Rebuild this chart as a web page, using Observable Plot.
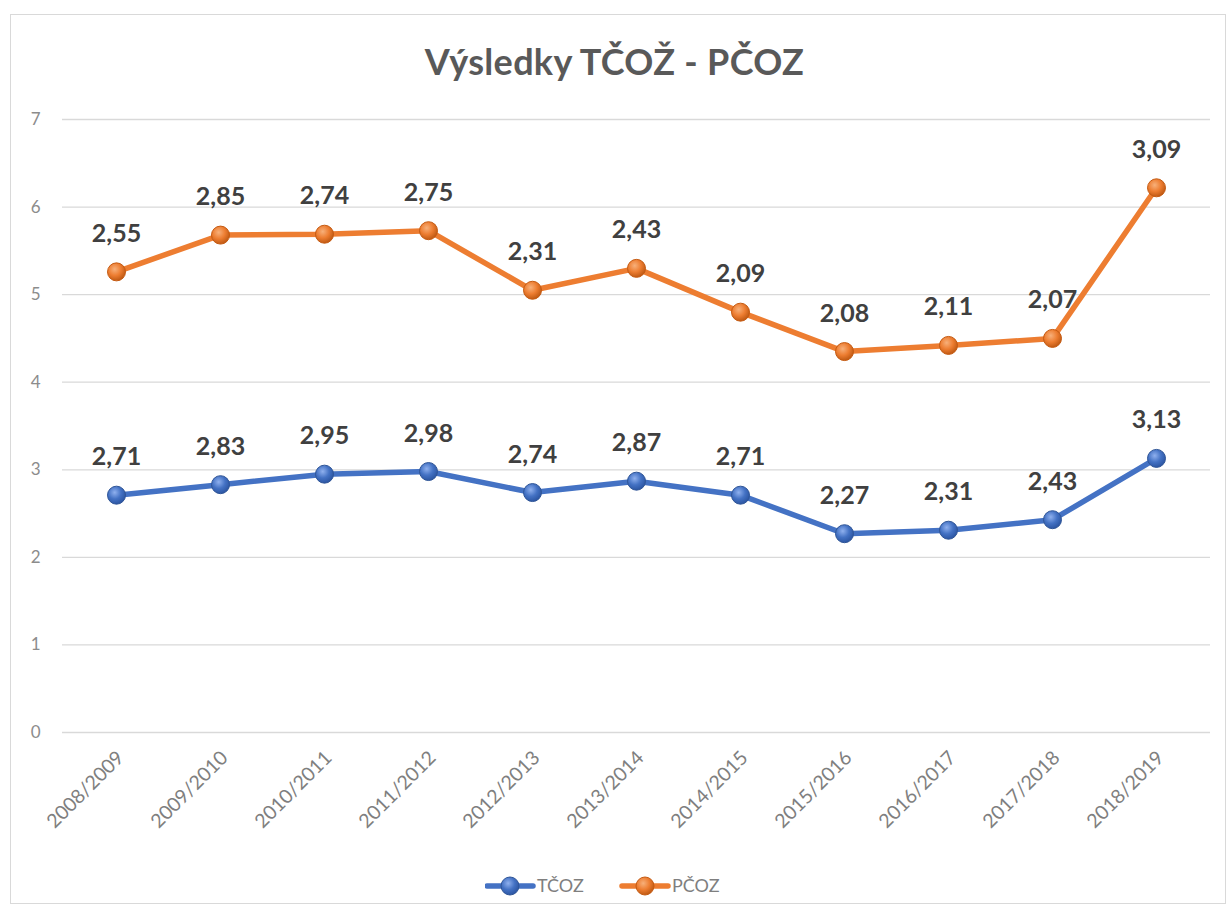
<!DOCTYPE html>
<html>
<head>
<meta charset="utf-8">
<script src="https://cdn.jsdelivr.net/npm/d3@7"></script>
<script src="https://cdn.jsdelivr.net/npm/@observablehq/plot@0.6"></script>
<style>
  html, body { margin: 0; padding: 0; background: #fff; }
  body { width: 1229px; height: 919px; position: relative; overflow: hidden; font-family: Lato, "Open Sans", sans-serif; }
  #frame { position: absolute; left: 10px; top: 14px; width: 1216px; height: 890px; border: 1.5px solid #d9d9d9; box-sizing: border-box; }
  #title { position: absolute; left: 0; top: 39px; width: 1229px; text-align: center; font-size: 36px; font-weight: 700; color: #595959; letter-spacing: 0.3px; }
  #chart { position: absolute; left: 0; top: 100px; }
  #legend { position: absolute; left: 0; top: 871px; width: 1229px; text-align: center; }
</style>
</head>
<body>
<div id="frame"></div>
<div id="title">Výsledky TČOŽ - PČOZ</div>
<div id="chart"></div>
<div id="legend"></div>
<script>
const seasons = ["2008/2009","2009/2010","2010/2011","2011/2012","2012/2013","2013/2014","2014/2015","2015/2016","2016/2017","2017/2018","2018/2019"];
const seriesNames = ["TČOZ", "PČOZ"];
const tcoz = [2.71, 2.83, 2.95, 2.98, 2.74, 2.87, 2.71, 2.27, 2.31, 2.43, 3.13];
const pcoz = [2.55, 2.85, 2.74, 2.75, 2.31, 2.43, 2.09, 2.08, 2.11, 2.07, 3.09];
const yTicks = [0, 1, 2, 3, 4, 5, 6, 7];
const colors = ["#4472C4", "#ED7D31"];

const data = [];
seriesNames.forEach((s, si) => {
  const vals = si === 0 ? tcoz : pcoz;
  seasons.forEach((season, i) => data.push({season, series: s, value: vals[i]}));
});

const fmt = d3.format(".2f");
const comma = v => fmt(v).replace(".", ",");

const stackOpts = {x: "season", y: "value", z: "series", order: null};

const plot = Plot.plot({
  width: 1229,
  height: 750,
  marginLeft: 62,
  marginRight: 19,
  marginTop: 19,
  marginBottom: 118,
  style: {fontFamily: "Lato, 'Open Sans', sans-serif", background: "transparent", fontSize: "16px"},
  x: {type: "point", domain: seasons, padding: 0.5, label: null},
  y: {domain: [0, 7], label: null},
  color: {domain: seriesNames, range: colors},
  marks: [
    Plot.gridY(yTicks, {stroke: "#d9d9d9", strokeOpacity: 1, strokeWidth: 1.3}),
    Plot.axisY(yTicks, {tickSize: 0, tickPadding: 22, fontSize: 17, fill: "#8c8c8c", label: null, tickFormat: d => String(d)}),
    Plot.axisX({tickSize: 0, tickPadding: 22, tickRotate: -45, fontSize: 19.5, fill: "#7f7f7f", label: null, dx: 4}),
    Plot.line(data, Plot.stackY2({...stackOpts, stroke: "series", strokeWidth: 5.5, strokeLinejoin: "round", strokeLinecap: "round"})),
    Plot.dot(data, Plot.stackY2({...stackOpts, fill: "series", r: 9, stroke: d => d.series, strokeWidth: 1})),
    Plot.text(data, Plot.stackY2({...stackOpts, text: d => comma(d.value), dy: -38, fontSize: 25, fontWeight: 700, fill: "#404040"}))
  ]
});

// 3D-like shading for markers
const svg = d3.select(plot);
const defs = svg.insert("defs", ":first-child");
const grads = [["gBlue", "#8fb0ee", "#4472C4", "#2c56a3"], ["gOrange", "#f7b07a", "#ED7D31", "#c05a14"]];
grads.forEach(([id, c0, c1, c2]) => {
  const g = defs.append("radialGradient").attr("id", id).attr("cx", "40%").attr("cy", "35%").attr("r", "65%");
  g.append("stop").attr("offset", "0%").attr("stop-color", c0);
  g.append("stop").attr("offset", "55%").attr("stop-color", c1);
  g.append("stop").attr("offset", "100%").attr("stop-color", c2);
});
svg.selectAll("circle").each(function() {
  const f = (this.getAttribute("fill") || "").toLowerCase();
  if (f === colors[0].toLowerCase()) { this.setAttribute("fill", "url(#gBlue)"); this.setAttribute("stroke", "#2f5597"); }
  if (f === colors[1].toLowerCase()) { this.setAttribute("fill", "url(#gOrange)"); this.setAttribute("stroke", "#c55a11"); }
});
document.getElementById("chart").appendChild(plot);

// Legend
const lg = d3.select("#legend").append("svg").attr("width", 260).attr("height", 30).style("display", "inline-block");
seriesNames.forEach((s, i) => {
  const x0 = i * 135;
  lg.append("line").attr("x1", x0 + 2).attr("x2", x0 + 48).attr("y1", 15).attr("y2", 15)
    .attr("stroke", colors[i]).attr("stroke-width", 5.5).attr("stroke-linecap", "round");
  lg.append("circle").attr("cx", x0 + 25).attr("cy", 15).attr("r", 9)
    .attr("fill", i === 0 ? "url(#gBlue)" : "url(#gOrange)").attr("stroke", i === 0 ? "#2f5597" : "#c55a11");
  lg.append("text").attr("x", x0 + 52).attr("y", 21).attr("font-size", 18).attr("fill", "#7f7f7f")
    .attr("font-family", "Lato, 'Open Sans', sans-serif").text(s);
});
</script>
</body>
</html>
